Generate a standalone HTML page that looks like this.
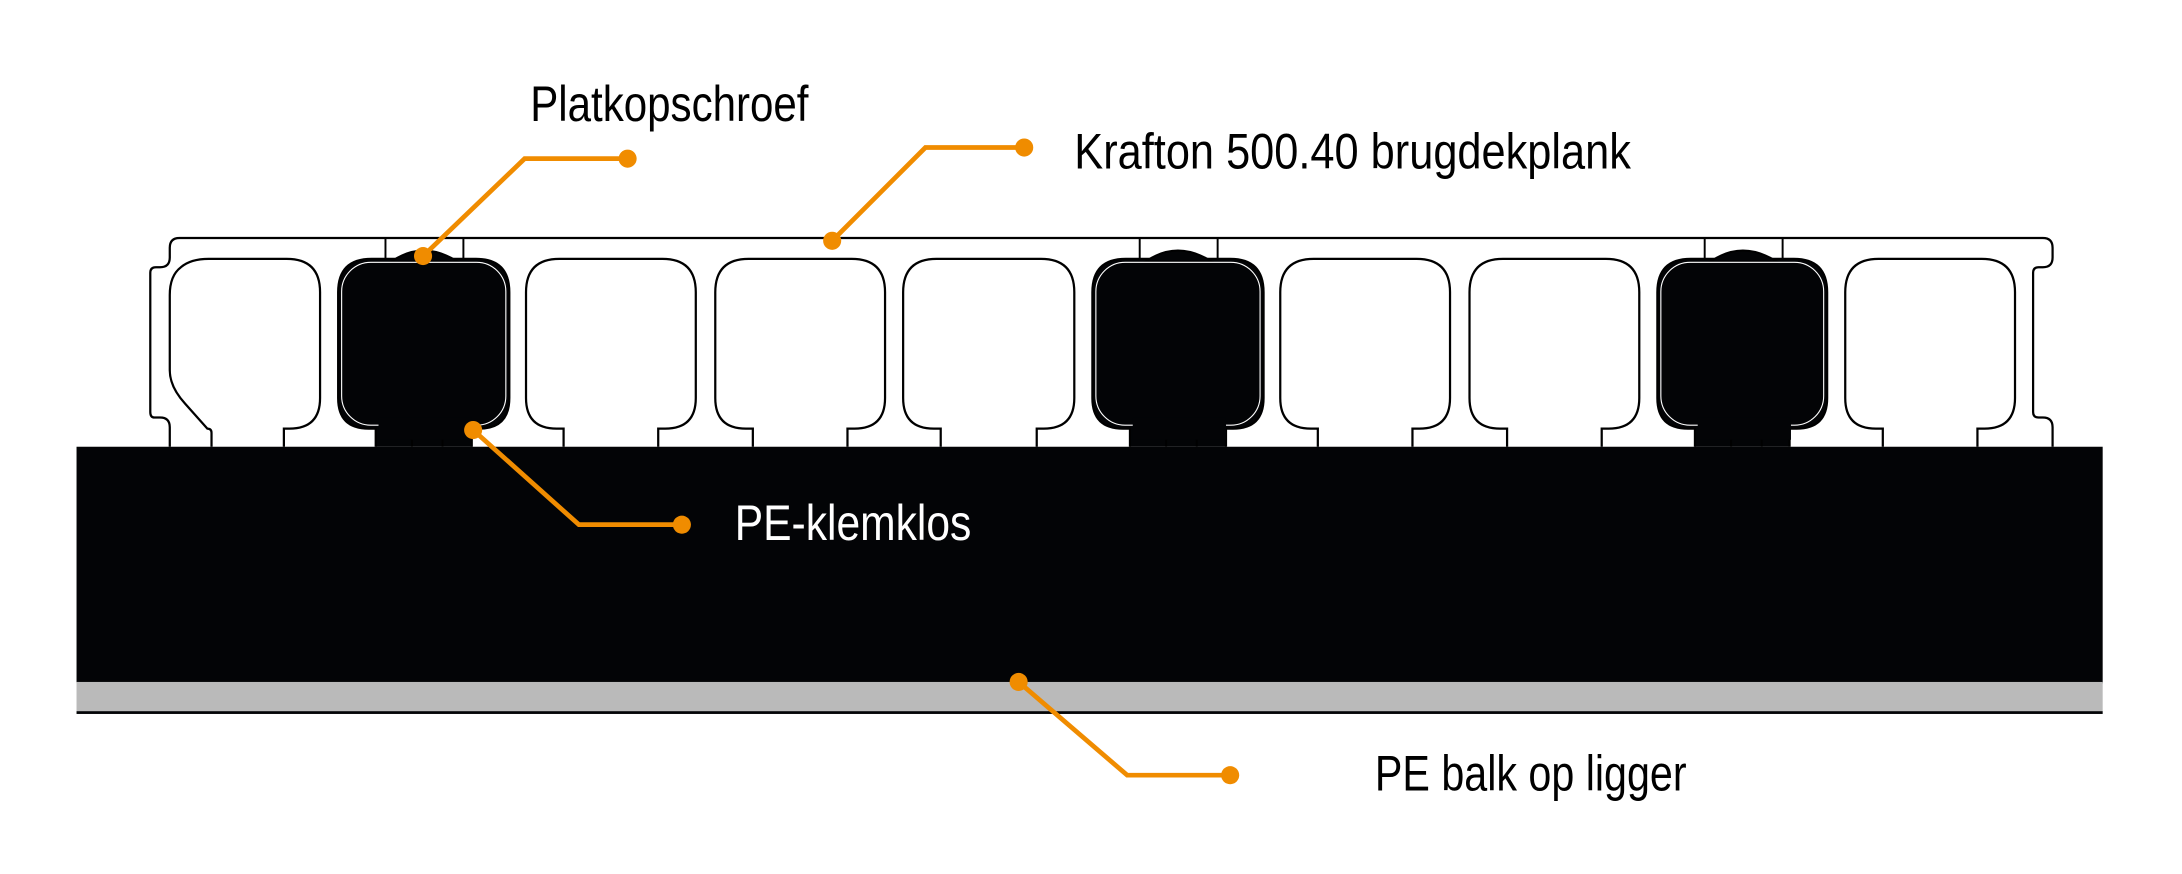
<!DOCTYPE html>
<html><head><meta charset="utf-8"><style>
html,body{margin:0;padding:0;background:#fff;}
svg{display:block;}
text{font-family:"Liberation Sans",sans-serif;}
</style></head><body>
<svg width="2182" height="874" viewBox="0 0 1568 628" preserveAspectRatio="none" xmlns="http://www.w3.org/2000/svg">
<rect x="0" y="0" width="1568" height="628" fill="#fff"/>
<rect x="55" y="321" width="1456" height="170" fill="#030406"/>
<rect x="55" y="490" width="1456" height="21" fill="#bababa"/>
<rect x="55" y="511" width="1456" height="2" fill="#030406"/>
<g fill="none" stroke="#000" stroke-width="1.6">
<path d="M122,321 V307 Q122,300 115,300 H111 Q108,300 108,296 V196 Q108,192 112,192 H115 Q122,192 122,185 V178 Q122,171 129,171 H1468 Q1475,171 1475,178 V185 Q1475,192 1468,192 H1465 Q1461,192 1461,196 V296 Q1461,300 1465,300 H1468 Q1475,300 1475,307 V321"/>
<path d="M152,321 V311 Q152,308 149,308 L133,290 Q122,278 122,266 V212 Q122,198 130,192 Q137,186 150,186 H206 Q230,186 230,210 V286 Q230,308 208,308 H204 V321"/>
</g>
<g fill="none" stroke="#000" stroke-width="1.6">
<path d="M270,321 V308 H265 Q243,308 243,286 V210 Q243,186 267,186 H342 Q366,186 366,210 V286 Q366,308 344,308 H339 V321" fill="#030406"/>
<path d="M405,321 V308 H400 Q378,308 378,286 V210 Q378,186 402,186 H476 Q500,186 500,210 V286 Q500,308 478,308 H473 V321"/>
<path d="M541,321 V308 H536 Q514,308 514,286 V210 Q514,186 538,186 H612 Q636,186 636,210 V286 Q636,308 614,308 H609 V321"/>
<path d="M676,321 V308 H671 Q649,308 649,286 V210 Q649,186 673,186 H748 Q772,186 772,210 V286 Q772,308 750,308 H745 V321"/>
<path d="M812,321 V308 H807 Q785,308 785,286 V210 Q785,186 809,186 H884 Q908,186 908,210 V286 Q908,308 886,308 H881 V321" fill="#030406"/>
<path d="M947,321 V308 H942 Q920,308 920,286 V210 Q920,186 944,186 H1018 Q1042,186 1042,210 V286 Q1042,308 1020,308 H1015 V321"/>
<path d="M1083,321 V308 H1078 Q1056,308 1056,286 V210 Q1056,186 1080,186 H1154 Q1178,186 1178,210 V286 Q1178,308 1156,308 H1151 V321"/>
<path d="M1218,321 V308 H1213 Q1191,308 1191,286 V210 Q1191,186 1215,186 H1289 Q1313,186 1313,210 V286 Q1313,308 1291,308 H1286 V321" fill="#030406"/>
<path d="M1353,321 V308 H1348 Q1326,308 1326,286 V210 Q1326,186 1350,186 H1424 Q1448,186 1448,210 V286 Q1448,308 1426,308 H1421 V321"/>
</g>
<g>
<g transform="translate(243,0)">
<path d="M38,188 Q61,172 86,188 Z" fill="#030406" stroke="#000" stroke-width="1.4"/>
<line x1="34" y1="171" x2="34" y2="186" stroke="#000" stroke-width="1.4"/>
<line x1="90" y1="171" x2="90" y2="186" stroke="#000" stroke-width="1.4"/>
<rect x="2.5" y="188.5" width="118" height="117" rx="21" fill="none" stroke="#fff" stroke-width="0.8"/>
<rect x="29" y="300" width="67" height="16" fill="#030406"/>
<line x1="53" y1="316" x2="53" y2="321" stroke="#000" stroke-width="1.4"/>
<line x1="75" y1="316" x2="75" y2="321" stroke="#000" stroke-width="1.4"/>
</g>
<g transform="translate(785,0)">
<path d="M38,188 Q61,172 86,188 Z" fill="#030406" stroke="#000" stroke-width="1.4"/>
<line x1="34" y1="171" x2="34" y2="186" stroke="#000" stroke-width="1.4"/>
<line x1="90" y1="171" x2="90" y2="186" stroke="#000" stroke-width="1.4"/>
<rect x="2.5" y="188.5" width="118" height="117" rx="21" fill="none" stroke="#fff" stroke-width="0.8"/>
<rect x="29" y="300" width="67" height="16" fill="#030406"/>
<line x1="53" y1="316" x2="53" y2="321" stroke="#000" stroke-width="1.4"/>
<line x1="75" y1="316" x2="75" y2="321" stroke="#000" stroke-width="1.4"/>
</g>
<g transform="translate(1191,0)">
<path d="M38,188 Q61,172 86,188 Z" fill="#030406" stroke="#000" stroke-width="1.4"/>
<line x1="34" y1="171" x2="34" y2="186" stroke="#000" stroke-width="1.4"/>
<line x1="90" y1="171" x2="90" y2="186" stroke="#000" stroke-width="1.4"/>
<rect x="2.5" y="188.5" width="117" height="117" rx="21" fill="none" stroke="#fff" stroke-width="0.8"/>
<rect x="29" y="300" width="67" height="16" fill="#030406"/>
<line x1="53" y1="316" x2="53" y2="321" stroke="#000" stroke-width="1.4"/>
<line x1="75" y1="316" x2="75" y2="321" stroke="#000" stroke-width="1.4"/>
</g>
</g>
<g stroke="#f08c00" stroke-width="3.4" fill="none">
<polyline points="304,184 377,114 451,114"/>
<polyline points="598,173 665,106 736,106"/>
<polyline points="340,309 416,377 490,377"/>
<polyline points="732,490 810,557 884,557"/>
</g>
<g fill="#f08c00">
<circle cx="304" cy="184" r="6.5"/><circle cx="451" cy="114" r="6.5"/>
<circle cx="598" cy="173" r="6.5"/><circle cx="736" cy="106" r="6.5"/>
<circle cx="340" cy="309" r="6.5"/><circle cx="490" cy="377" r="6.5"/>
<circle cx="732" cy="490" r="6.5"/><circle cx="884" cy="557" r="6.5"/>
</g>
<g font-size="36">
<text x="381" y="87" textLength="200" lengthAdjust="spacingAndGlyphs" fill="#000">Platkopschroef</text>
<text x="772" y="121" textLength="400" lengthAdjust="spacingAndGlyphs" fill="#000">Krafton 500.40 brugdekplank</text>
<text x="528" y="388" textLength="170" lengthAdjust="spacingAndGlyphs" fill="#fff">PE-klemklos</text>
<text x="988" y="568" textLength="224" lengthAdjust="spacingAndGlyphs" fill="#000">PE balk op ligger</text>
</g>
</svg>
</body></html>
